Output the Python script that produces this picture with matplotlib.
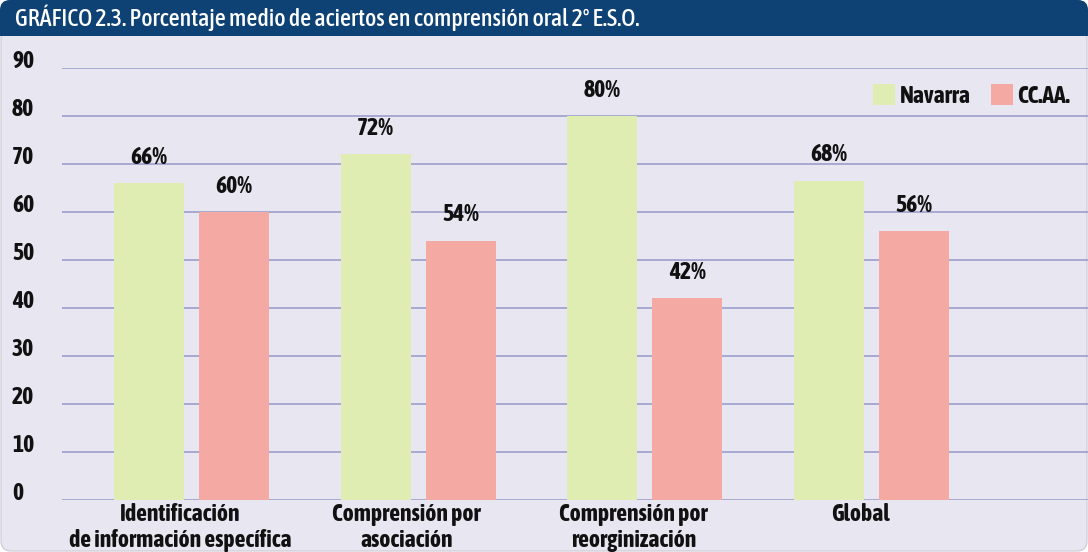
import matplotlib
matplotlib.use("Agg")
import matplotlib.pyplot as plt
from matplotlib import font_manager as fm
import numpy as np
from matplotlib.patches import FancyBboxPatch, Rectangle, Patch

categories = ["Identificación\nde información específica",
              "Comprensión por\nasociación",
              "Comprensión por\nreorginización",
              "Global"]
navarra = [66, 72, 80, 66.5]
ccaa = [60, 54, 42, 56]
navarra_labels = ["66%", "72%", "80%", "68%"]
ccaa_labels = ["60%", "54%", "42%", "56%"]
series_names = ["Navarra", "CC.AA."]
yticks = [0, 10, 20, 30, 40, 50, 60, 70, 80, 90]
title = "GRÁFICO 2.3. Porcentaje medio de aciertos en comprensión oral 2º E.S.O."


def _w(f):
    w = f.weight
    if isinstance(w, str):
        return {"bold": 700, "semibold": 600, "demibold": 600, "heavy": 800, "black": 900,
                "extra bold": 800, "medium": 500}.get(w.lower(), 400)
    return w


cands = [f for f in fm.fontManager.ttflist if ("Narrow" in f.name or "Condensed" in f.name)]
bold_c = [f for f in cands if _w(f) >= 600]
if bold_c:
    FONTNAME = sorted(bold_c, key=lambda f: f.name)[0].name
elif cands:
    FONTNAME = sorted(cands, key=lambda f: f.name)[0].name
else:
    FONTNAME = "DejaVu Sans"
FONT = [FONTNAME, "DejaVu Sans"]
plt.rcParams['font.family'] = FONT
plt.rcParams['font.stretch'] = "condensed"

W, H = 10.88, 5.52
fig = plt.figure(figsize=(W, H), dpi=100)
fig.patch.set_facecolor("white")

bg = "#E8E6F0"
navy = "#0E4275"
green = "#DFECB2"
salmon = "#F4AAA2"
gridc = "#A7A9D2"
txt = "#111111"

panel = FancyBboxPatch((0.01, 0.01), W - 0.02, H - 0.02, boxstyle="round,pad=0,rounding_size=0.1",
                       transform=fig.dpi_scale_trans, facecolor=bg, edgecolor="#C9C8D4", lw=0.8,
                       zorder=-10)
fig.patches.append(panel)
bar_h = 0.36
tb = FancyBboxPatch((0.0, H - bar_h), W, bar_h, boxstyle="round,pad=0,rounding_size=0.1",
                    transform=fig.dpi_scale_trans, facecolor=navy, edgecolor="none", zorder=-9)
fig.patches.append(tb)
fig.patches.append(Rectangle((0.0, H - bar_h), W, 0.15, transform=fig.dpi_scale_trans,
                             facecolor=navy, edgecolor="none", zorder=-9))
fig.text(15 / 1088, 1 - 18 / 552, title, color="white", fontsize=17.3, va="center", ha="left",
         fontweight="medium")

ax = fig.add_axes([62 / 1088, 52 / 552, (1088 - 62) / 1088, 432 / 552])
ax.set_facecolor("none")
for s in ax.spines.values():
    s.set_visible(False)

x = np.arange(len(categories))
bw = 0.309
off = 0.1875
for yv in yticks:
    ax.axhline(yv, color=gridc, lw=1.4, zorder=1)
b1 = ax.bar(x - off, navarra, bw, color=green, zorder=2, label=series_names[0])
b2 = ax.bar(x + off, ccaa, bw, color=salmon, zorder=2, label=series_names[1])

for bars, labs in ((b1, navarra_labels), (b2, ccaa_labels)):
    for rect, lab in zip(bars, labs):
        ax.annotate(lab, (rect.get_x() + rect.get_width() / 2, rect.get_height()),
                    xytext=(0, 14), textcoords="offset points", ha="center", va="baseline",
                    fontsize=17, color=txt, fontweight="bold")

ax.set_xlim(-0.571, 3.955)
ax.set_ylim(0, 90)
ax.set_yticks(yticks)
ax.set_yticklabels([str(v) for v in yticks], ha="left", va="baseline", fontsize=17,
                   fontweight="bold", color=txt)
ax.tick_params(axis="y", length=0, pad=36)
ax.set_xticks(x - 0.05)
ax.set_xticklabels(categories, fontsize=17, fontweight="bold", color=txt, linespacing=1.2)
ax.tick_params(axis="x", length=0, pad=2)

leg = ax.legend(handles=[Patch(facecolor=green), Patch(facecolor=salmon)], labels=series_names,
                loc="center right", bbox_to_anchor=(0.9825, 0.935), ncol=2, frameon=False,
                handlelength=0.92, handleheight=1.0, handletextpad=0.2, columnspacing=0.85,
                borderpad=0, borderaxespad=0, prop={"size": 17, "weight": "bold"})
for t in leg.get_texts():
    t.set_color(txt)

fig.savefig("out.png", dpi=100, facecolor=fig.get_facecolor())
